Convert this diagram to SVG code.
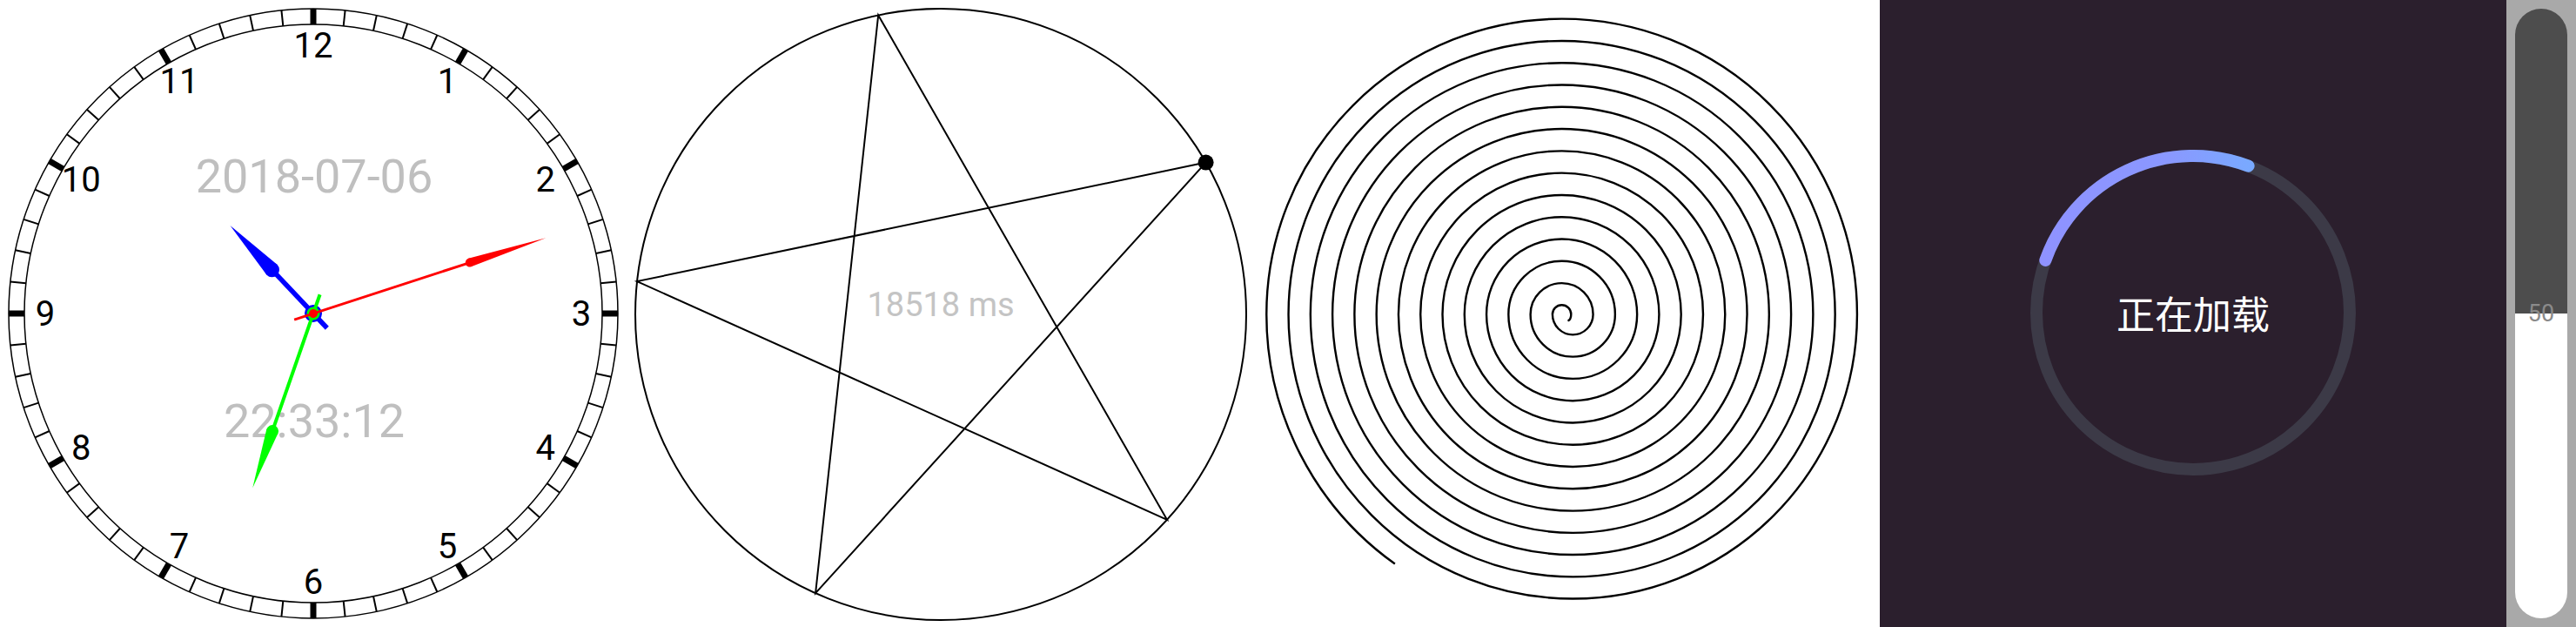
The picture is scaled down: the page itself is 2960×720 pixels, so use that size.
<svg xmlns="http://www.w3.org/2000/svg" xmlns:xlink="http://www.w3.org/1999/xlink" width="2960" height="720" viewBox="0 0 2960 720">
<style>
.txt{font-family:Roboto,"Liberation Sans",sans-serif}
.num{font-size:40px;fill:#000;text-anchor:middle}
.big{font-size:54px;fill:#bfbfbf;text-anchor:middle}
.thin{fill:none;stroke:#000;stroke-width:1.5}
.line2{fill:none;stroke:#000;stroke-width:2}
.spir{fill:none;stroke:#000;stroke-width:2.4}
</style>
<defs>
<line id="tk" x1="360" y1="10" x2="360" y2="28"/>
<linearGradient id="prog" gradientUnits="userSpaceOnUse" x1="2343" y1="0" x2="2591" y2="0">
<stop offset="0" stop-color="#8f92ff"/>
<stop offset="0.6" stop-color="#8a98ff"/>
<stop offset="1" stop-color="#78aaff"/>
</linearGradient>
<clipPath id="trackClip"><rect x="2890" y="10" width="60" height="700" rx="30" ry="30"/></clipPath>
</defs>
<rect x="0" y="0" width="2960" height="720" fill="#fff"/>

<g id="clock">
<circle class="thin" cx="360" cy="360" r="350"/>
<circle class="thin" cx="360" cy="360" r="332"/>
<g id="minor-ticks" stroke="#000" stroke-width="2">
<use xlink:href="#tk" transform="rotate(6 360 360)"/><use xlink:href="#tk" transform="rotate(12 360 360)"/><use xlink:href="#tk" transform="rotate(18 360 360)"/><use xlink:href="#tk" transform="rotate(24 360 360)"/>
<use xlink:href="#tk" transform="rotate(36 360 360)"/><use xlink:href="#tk" transform="rotate(42 360 360)"/><use xlink:href="#tk" transform="rotate(48 360 360)"/><use xlink:href="#tk" transform="rotate(54 360 360)"/>
<use xlink:href="#tk" transform="rotate(66 360 360)"/><use xlink:href="#tk" transform="rotate(72 360 360)"/><use xlink:href="#tk" transform="rotate(78 360 360)"/><use xlink:href="#tk" transform="rotate(84 360 360)"/>
<use xlink:href="#tk" transform="rotate(96 360 360)"/><use xlink:href="#tk" transform="rotate(102 360 360)"/><use xlink:href="#tk" transform="rotate(108 360 360)"/><use xlink:href="#tk" transform="rotate(114 360 360)"/>
<use xlink:href="#tk" transform="rotate(126 360 360)"/><use xlink:href="#tk" transform="rotate(132 360 360)"/><use xlink:href="#tk" transform="rotate(138 360 360)"/><use xlink:href="#tk" transform="rotate(144 360 360)"/>
<use xlink:href="#tk" transform="rotate(156 360 360)"/><use xlink:href="#tk" transform="rotate(162 360 360)"/><use xlink:href="#tk" transform="rotate(168 360 360)"/><use xlink:href="#tk" transform="rotate(174 360 360)"/>
<use xlink:href="#tk" transform="rotate(186 360 360)"/><use xlink:href="#tk" transform="rotate(192 360 360)"/><use xlink:href="#tk" transform="rotate(198 360 360)"/><use xlink:href="#tk" transform="rotate(204 360 360)"/>
<use xlink:href="#tk" transform="rotate(216 360 360)"/><use xlink:href="#tk" transform="rotate(222 360 360)"/><use xlink:href="#tk" transform="rotate(228 360 360)"/><use xlink:href="#tk" transform="rotate(234 360 360)"/>
<use xlink:href="#tk" transform="rotate(246 360 360)"/><use xlink:href="#tk" transform="rotate(252 360 360)"/><use xlink:href="#tk" transform="rotate(258 360 360)"/><use xlink:href="#tk" transform="rotate(264 360 360)"/>
<use xlink:href="#tk" transform="rotate(276 360 360)"/><use xlink:href="#tk" transform="rotate(282 360 360)"/><use xlink:href="#tk" transform="rotate(288 360 360)"/><use xlink:href="#tk" transform="rotate(294 360 360)"/>
<use xlink:href="#tk" transform="rotate(306 360 360)"/><use xlink:href="#tk" transform="rotate(312 360 360)"/><use xlink:href="#tk" transform="rotate(318 360 360)"/><use xlink:href="#tk" transform="rotate(324 360 360)"/>
<use xlink:href="#tk" transform="rotate(336 360 360)"/><use xlink:href="#tk" transform="rotate(342 360 360)"/><use xlink:href="#tk" transform="rotate(348 360 360)"/><use xlink:href="#tk" transform="rotate(354 360 360)"/>
</g>
<g id="major-ticks" stroke="#000" stroke-width="7">
<use xlink:href="#tk"/><use xlink:href="#tk" transform="rotate(30 360 360)"/><use xlink:href="#tk" transform="rotate(60 360 360)"/><use xlink:href="#tk" transform="rotate(90 360 360)"/>
<use xlink:href="#tk" transform="rotate(120 360 360)"/><use xlink:href="#tk" transform="rotate(150 360 360)"/><use xlink:href="#tk" transform="rotate(180 360 360)"/><use xlink:href="#tk" transform="rotate(210 360 360)"/>
<use xlink:href="#tk" transform="rotate(240 360 360)"/><use xlink:href="#tk" transform="rotate(270 360 360)"/><use xlink:href="#tk" transform="rotate(300 360 360)"/><use xlink:href="#tk" transform="rotate(330 360 360)"/>
</g>
<g id="clock-numbers" class="txt num">
<text x="360" y="66">12</text>
<text x="514" y="107.3">1</text>
<text x="626.7" y="220">2</text>
<text x="668" y="374">3</text>
<text x="626.7" y="528">4</text>
<text x="514" y="640.7">5</text>
<text x="360" y="682">6</text>
<text x="206" y="640.7">7</text>
<text x="93.3" y="528">8</text>
<text x="52" y="374">9</text>
<text x="93.3" y="220">10</text>
<text x="206" y="107.3">11</text>
</g>
<text class="txt big" x="361" y="221">2018-07-06</text>
<text class="txt big" x="361" y="502">22:33:12</text>
<g id="hour-hand" fill="#0000ff" transform="rotate(316.6 360 360)">
<rect x="357.2" y="291" width="5.6" height="92"/>
<circle cx="360" cy="291" r="8.4"/>
<polygon points="351.6,291 368.4,291 360,221"/>
<circle cx="360" cy="360" r="10"/>
</g>
<g id="minute-hand" fill="#00ff00" transform="rotate(199.2 360 360)">
<rect x="358" y="217" width="4" height="166"/>
<circle cx="360" cy="217" r="7"/>
<polygon points="353,217 367,217 360,148"/>
<circle cx="360" cy="360" r="7.5"/>
</g>
<g id="second-hand" fill="#ff0000" transform="rotate(72 360 360)">
<rect x="358.5" y="171" width="3" height="212"/>
<circle cx="360" cy="171" r="5"/>
<polygon points="355,171 365,171 360,79"/>
<circle cx="360" cy="360" r="5"/>
</g>
</g>

<g id="star">
<circle class="line2" cx="1081" cy="361" r="351"/>
<path class="line2" stroke-linejoin="miter" d="M1385.6 186.6 L732 323.1 L1341 596.8 L1009.2 17.4 L937.1 681.1 Z"/>
<circle cx="1385.6" cy="186.6" r="9" fill="#000"/>
<text class="txt" x="1081" y="362.5" font-size="38" fill="#c4c4c4" text-anchor="middle">18518 ms</text>
</g>

<g id="spiral">
<path class="spir" d="M1801.5 368.5 Q1805.3 367 1805.3 361 A10.7 10.7 0 0 0 1783.9 361 A23.34 23.34 0 0 0 1830.58 361 A35.98 35.98 0 0 0 1758.62 361 A48.62 48.62 0 0 0 1855.86 361 A61.26 61.26 0 0 0 1733.34 361 A73.9 73.9 0 0 0 1881.14 361 A86.54 86.54 0 0 0 1708.06 361 A99.18 99.18 0 0 0 1906.42 361 A111.82 111.82 0 0 0 1682.78 361 A124.46 124.46 0 0 0 1931.7 361 A137.1 137.1 0 0 0 1657.5 361 A149.74 149.74 0 0 0 1956.98 361 A162.38 162.38 0 0 0 1632.22 361 A175.02 175.02 0 0 0 1982.26 361 A187.66 187.66 0 0 0 1606.94 361 A200.3 200.3 0 0 0 2007.54 361 A212.94 212.94 0 0 0 1581.66 361 A225.58 225.58 0 0 0 2032.82 361 A238.22 238.22 0 0 0 1556.38 361 A250.86 250.86 0 0 0 2058.1 361 A263.5 263.5 0 0 0 1531.1 361 A276.14 276.14 0 0 0 2083.38 361 A288.78 288.78 0 0 0 1505.82 361 A301.42 301.42 0 0 0 2108.66 361 A314.06 314.06 0 0 0 1480.54 361 A326.7 326.7 0 0 0 2133.94 361 A339.34 339.34 0 0 0 1455.26 361 A351.98 351.98 0 0 0 1602.85 647.55"/>
</g>

<g id="loader">
<rect x="2160" y="0" width="720" height="720" fill="#2b1f2d"/>
<circle cx="2520" cy="359" r="180" fill="none" stroke="#3c3a47" stroke-width="14"/>
<path d="M2350.33 298.91 A180 180 0 0 1 2583.63 190.63" fill="none" stroke="url(#prog)" stroke-width="14" stroke-linecap="round"/>
<text x="2520" y="378" font-family="'Noto Sans CJK SC',sans-serif" font-size="44" fill="#ffffff" text-anchor="middle">正在加载</text>
</g>

<g id="slider">
<rect x="2880" y="0" width="80" height="720" fill="#a9a9a9"/>
<g clip-path="url(#trackClip)">
<rect x="2890" y="10" width="60" height="350" fill="#4d4d4d"/>
<rect x="2890" y="360" width="60" height="350" fill="#ffffff"/>
</g>
<text class="txt" x="2920" y="369.3" font-size="27" fill="#8a8a8a" text-anchor="middle">50</text>
</g>
</svg>
